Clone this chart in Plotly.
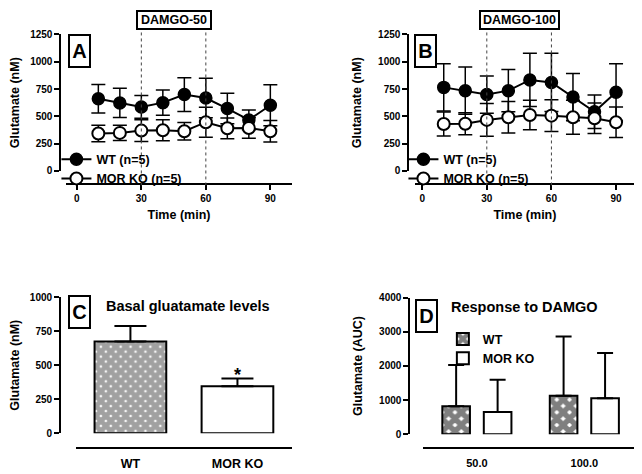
import plotly.graph_objects as go

# page body has an 8px default margin, so the figure is drawn 8px in from the corner
OFF = 8
W, H = 642 - OFF, 474 - OFF
FONT = "Liberation Sans, Arial, sans-serif"

# ---------------- data ----------------
time_min = [10, 20, 30, 40, 50, 60, 70, 80, 90]
damgo_window = [30, 60]

a_wt = [661, 622, 586, 625, 699, 667, 571, 467, 601]
a_wt_err = [130, 134, 104, 116, 155, 181, 140, 90, 188]
a_ko = [342, 348, 369, 372, 363, 446, 390, 393, 363]
a_ko_err = [75, 70, 100, 97, 80, 137, 95, 95, 98]

b_wt = [765, 735, 699, 735, 833, 810, 676, 542, 720]
b_wt_err = [217, 217, 170, 194, 244, 267, 217, 154, 262]
b_ko = [429, 432, 467, 491, 512, 506, 491, 482, 446]
b_ko_err = [110, 100, 150, 145, 135, 145, 155, 140, 140]

c_groups = ["WT", "MOR KO"]
c_vals = [675, 346]
c_err = [113, 57]

d_doses = ["50.0", "100.0"]
d_wt = [819, 1124]
d_wt_err = [1210, 1743]
d_ko = [648, 1057]
d_ko_err = [952, 1324]

# ---------------- helpers (page pixel -> paper fraction) ----------------
def px_x(p):
    return (p - OFF) / W

def px_y(p):
    return 1 - (p - OFF) / H

fig = go.Figure()

def line_pair(wt, wterr, ko, koerr, xa, ya, leg):
    fig.add_trace(go.Scatter(
        x=time_min, y=wt, mode="lines+markers", name="WT (n=5)",
        line=dict(color="black", width=2),
        marker=dict(color="black", size=12, line=dict(color="black", width=1.5)),
        error_y=dict(type="data", array=wterr, color="black", thickness=1.5, width=7),
        xaxis=xa, yaxis=ya, legend=leg))
    fig.add_trace(go.Scatter(
        x=time_min, y=ko, mode="lines+markers", name="MOR KO (n=5)",
        line=dict(color="black", width=2),
        marker=dict(color="white", size=12, line=dict(color="black", width=2)),
        error_y=dict(type="data", array=koerr, color="black", thickness=1.5, width=7),
        xaxis=xa, yaxis=ya, legend=leg))

line_pair(a_wt, a_wt_err, a_ko, a_ko_err, "x", "y", "legend")
line_pair(b_wt, b_wt_err, b_ko, b_ko_err, "x2", "y2", "legend2")

# Panel C
fig.add_trace(go.Bar(
    x=c_groups, y=c_vals, showlegend=False, width=0.67,
    marker=dict(color=["white", "white"],
                pattern=dict(shape=["x", ""], fgcolor="black", bgcolor="white", size=7, solidity=0.9),
                line=dict(color="black", width=2)),
    error_y=dict(type="data", symmetric=False, array=c_err, arrayminus=[0, 0],
                 color="black", thickness=2, width=16),
    xaxis="x3", yaxis="y3"))

# Panel D
fig.add_trace(go.Bar(
    x=d_doses, y=d_wt, name="WT",
    marker=dict(color="white",
                pattern=dict(shape="x", fgcolor="black", bgcolor="white", size=9, solidity=0.85),
                line=dict(color="black", width=2)),
    error_y=dict(type="data", symmetric=False, array=d_wt_err, arrayminus=[0, 0],
                 color="black", thickness=2, width=8),
    xaxis="x4", yaxis="y4", legend="legend3"))
fig.add_trace(go.Bar(
    x=d_doses, y=d_ko, name="MOR KO",
    marker=dict(color="white", line=dict(color="black", width=2)),
    error_y=dict(type="data", symmetric=False, array=d_ko_err, arrayminus=[0, 0],
                 color="black", thickness=2, width=8),
    xaxis="x4", yaxis="y4", legend="legend3"))

# ---------------- axes ----------------
tickfont = dict(family=FONT, size=10, color="black", weight="bold")
titlefont = dict(family=FONT, size=12.5, color="black", weight="bold")

def yax(dom_px, pos_px, rng, dtick, title):
    return dict(domain=[px_y(dom_px[1]), px_y(dom_px[0])], anchor="free", position=px_x(pos_px),
                range=rng, tick0=0, dtick=dtick, showgrid=False, zeroline=False,
                showline=True, linecolor="black", linewidth=2,
                ticks="outside", ticklen=5, tickwidth=2, tickcolor="black",
                tickfont=tickfont, title=dict(text=title, font=titlefont, standoff=13))

def xax(dom_px, pos_px, rng, **kw):
    d = dict(domain=[px_x(dom_px[0]), px_x(dom_px[1])], anchor="free", position=px_y(pos_px),
             range=rng, showgrid=False, zeroline=False,
             showline=True, linecolor="black", linewidth=2, tickfont=tickfont)
    d.update(kw)
    return d

xr_a = [-5, 100]
xr_b = [-3.4, 98.8]
fig.update_layout(
    xaxis=xax([57.8, 286.8], 183, xr_a, tickvals=[0, 30, 60, 90], ticks="outside", ticklen=5,
              tickwidth=2, tickcolor="black",
              title=dict(text="Time (min)", font=titlefont, standoff=6)),
    yaxis=yax([29, 169], 52, [0, 1250], 250, "Glutamate (nM)"),
    xaxis2=xax([411.6, 634.9], 183, xr_b, tickvals=[0, 30, 60, 90], ticks="outside", ticklen=5,
               tickwidth=2, tickcolor="black",
               title=dict(text="Time (min)", font=titlefont, standoff=6)),
    yaxis2=yax([29, 169], 405, [0, 1250], 250, "Glutamate (nM)"),
    xaxis3=xax([68, 287], 453, [-0.507, 1.51], type="category", ticks="",
               tickfont=dict(family=FONT, size=12.5, color="black", weight="bold"),
               ticklabelstandoff=4),
    yaxis3=yax([298.7, 438.3], 51.7, [0, 1000], 250, "Glutamate (nM)"),
    xaxis4=xax([420, 638], 453.3, [-0.5, 1.5], type="category", ticks="",
               tickfont=dict(family=FONT, size=11, color="black", weight="bold"),
               ticklabelstandoff=5),
    yaxis4=yax([299.3, 439.3], 406, [0, 4000], 1000, "Glutamate (AUC)"),
    barmode="group", bargap=0.228, bargroupgap=0.334,
)

# ---------------- legends ----------------
legfont = dict(family=FONT, size=12.5, color="black", weight="bold")
common_leg = dict(bgcolor="rgba(0,0,0,0)", font=legfont, xanchor="left", yanchor="top",
                  tracegroupgap=0, itemwidth=30)
fig.update_layout(
    legend=dict(x=px_x(48), y=px_y(142), **common_leg),
    legend2=dict(x=px_x(400), y=px_y(142), **common_leg),
    legend3=dict(x=px_x(440), y=px_y(326.5), **common_leg),
)

# ---------------- annotations & shapes ----------------
anns = []
def boxlabel(text, xc, yc, w, h, size):
    anns.append(dict(text=text, xref="paper", yref="paper", x=px_x(xc), y=px_y(yc),
                     xanchor="center", yanchor="middle", showarrow=False,
                     font=dict(family=FONT, size=size, color="black", weight="bold"),
                     bordercolor="black", borderwidth=2, borderpad=0, bgcolor="white",
                     width=w, height=h))

boxlabel("A", 71.5, 45.5, 19, 30, 20)
boxlabel("B", 422.3, 45.5, 19, 30, 20)
boxlabel("C", 71.5, 314, 19, 30, 20)
boxlabel("D", 423, 318, 19, 30, 20)

mid = sum(damgo_window) / 2
for xref, txt, w in [("x", "DAMGO-50", 72), ("x2", "DAMGO-100", 77)]:
    anns.append(dict(text=txt, xref=xref, yref="paper", x=mid, y=px_y(14),
                     xanchor="center", yanchor="middle", showarrow=False,
                     font=dict(family=FONT, size=12.5, color="black", weight="bold"),
                     bordercolor="black", borderwidth=2, borderpad=0, bgcolor="white",
                     width=w, height=16))

anns.append(dict(text="Basal gluatamate levels", xref="paper", yref="paper",
                 x=px_x(181.7), y=px_y(307.7), xanchor="center", yanchor="middle",
                 showarrow=False, font=dict(family=FONT, size=14.5, color="black", weight="bold")))
anns.append(dict(text="Response to DAMGO", xref="paper", yref="paper",
                 x=px_x(522.5), y=px_y(308.3), xanchor="center", yanchor="middle",
                 showarrow=False, font=dict(family=FONT, size=14.5, color="black", weight="bold")))
anns.append(dict(text="*", xref="x3", yref="y3", x=c_groups[1], y=c_vals[1] + c_err[1],
                 xanchor="center", yanchor="bottom", yshift=-9, showarrow=False,
                 font=dict(family=FONT, size=18, color="black", weight="bold")))

shapes = []
for xref in ["x", "x2"]:
    for t in damgo_window:
        shapes.append(dict(type="line", xref=xref, yref="paper", x0=t, x1=t,
                           y0=px_y(184), y1=px_y(24),
                           line=dict(color="#444", width=1, dash="dot")))

fig.update_layout(annotations=anns, shapes=shapes,
                  width=W, height=H, autosize=False,
                  margin=dict(l=0, r=0, t=0, b=0),
                  paper_bgcolor="white", plot_bgcolor="white")

fig.write_html("out.html")
